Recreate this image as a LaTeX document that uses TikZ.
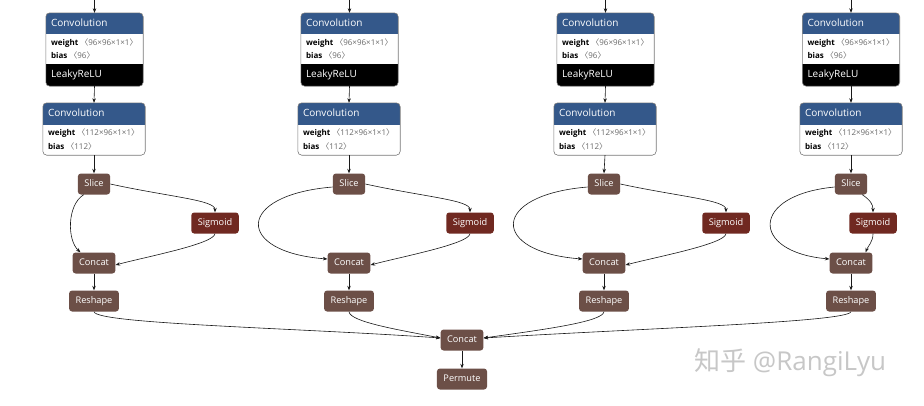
\documentclass[tikz,border=0pt]{standalone}
\usepackage{fontspec}
\setmainfont{Open Sans}
\newfontfamily\cjk{Noto Sans CJK SC}
\usetikzlibrary{arrows.meta}
\definecolor{convblue}{RGB}{52,88,138}
\definecolor{shapebrown}{RGB}{108,79,71}
\definecolor{sigred}{RGB}{112,41,33}
\definecolor{paramgray}{RGB}{105,105,105}
\definecolor{edgecol}{RGB}{25,25,25}
\definecolor{boxgray}{RGB}{120,120,120}
\newcommand\lbr{{\cjk 〈}}
\newcommand\rbr{{\cjk 〉}}
\tikzset{
  blk/.style={rectangle, inner sep=0pt, draw=none},
  boxline/.style={draw=boxgray, line width=0.6pt},
  hdr/.style={anchor=west, inner sep=0pt, text=white, font=\fontsize{10}{12}\selectfont, text height=7.5pt, text depth=2pt},
  prm/.style={anchor=west, inner sep=0pt, text=black, font=\fontsize{8}{9.5}\selectfont, text height=6pt, text depth=1.5pt},
  op/.style={rectangle, rounded corners=3pt, minimum height=21pt, inner xsep=6.5pt, inner ysep=0pt, text=white, fill=shapebrown, font=\fontsize{9.2}{11}\selectfont, text height=7pt, text depth=2pt},
  sig/.style={op, fill=sigred},
  arr/.style={draw=edgecol, line width=0.6pt, -{Stealth[length=4.5pt,width=3.5pt]}},
  wm/.style={inner sep=0pt, text=black!22, font=\fontsize{26}{30}\selectfont}
}
\newcommand\convA[2]{%
  \node[blk, minimum width=97pt, minimum height=73pt] (#1) at (#2,49.5) {};
  \begin{scope}
    \clip[rounded corners=4pt] (#1.north west) rectangle (#1.south east);
    \fill[convblue] (#1.north west) rectangle ([yshift=-21pt]#1.north east);
    \fill[black] ([yshift=22pt]#1.south west) rectangle (#1.south east);
  \end{scope}
  \draw[boxline, rounded corners=4pt] (#1.north west) rectangle (#1.south east);
  \node[hdr] (#1h) at ([xshift=5pt,yshift=-10.5pt]#1.north west) {Convolution};
  \node[prm] (#1w) at ([xshift=5pt,yshift=-30pt]#1.north west) {\textbf{weight} \textcolor{paramgray}{\lbr 96×96×1×1\rbr}};
  \node[prm] (#1b) at ([xshift=5pt,yshift=-43pt]#1.north west) {\textbf{bias} \textcolor{paramgray}{\lbr 96\rbr}};
  \node[hdr] (#1l) at ([xshift=5pt,yshift=11pt]#1.south west) {LeakyReLU};
}
\newcommand\convB[2]{%
  \node[blk, minimum width=102pt, minimum height=52pt] (#1) at (#2,129) {};
  \begin{scope}
    \clip[rounded corners=4pt] (#1.north west) rectangle (#1.south east);
    \fill[convblue] (#1.north west) rectangle ([yshift=-22pt]#1.north east);
  \end{scope}
  \draw[boxline, rounded corners=4pt] (#1.north west) rectangle (#1.south east);
  \node[hdr] (#1h) at ([xshift=5pt,yshift=-11pt]#1.north west) {Convolution};
  \node[prm] (#1w) at ([xshift=5pt,yshift=-30.5pt]#1.north west) {\textbf{weight} \textcolor{paramgray}{\lbr 112×96×1×1\rbr}};
  \node[prm] (#1b) at ([xshift=5pt,yshift=-44pt]#1.north west) {\textbf{bias} \textcolor{paramgray}{\lbr 112\rbr}};
}
\begin{document}
\begin{tikzpicture}[x=1pt,y=-1pt]
\useasboundingbox[fill=white] (0,0) rectangle (924,405);

% ---------- column 1 ----------
\convA{ca1}{94.5}
\convB{cb1}{94}
\node[op] (s1) at (94,184) {Slice};
\node[sig] (g1) at (215,223) {Sigmoid};
\node[op] (k1) at (94,263) {Concat};
\node[op] (r1) at (94,301) {Reshape};
% ---------- column 2 ----------
\convA{ca2}{349.5}
\convB{cb2}{349}
\node[op] (s2) at (349,184) {Slice};
\node[sig] (g2) at (470,223) {Sigmoid};
\node[op] (k2) at (349,263) {Concat};
\node[op] (r2) at (349,301) {Reshape};
% ---------- column 3 ----------
\convA{ca3}{605.5}
\convB{cb3}{605}
\node[op] (s3) at (604,184) {Slice};
\node[sig] (g3) at (726,223) {Sigmoid};
\node[op] (k3) at (604,263) {Concat};
\node[op] (r3) at (604,301) {Reshape};
% ---------- column 4 ----------
\convA{ca4}{851}
\convB{cb4}{851}
\node[op] (s4) at (851,184) {Slice};
\node[sig] (g4) at (873,223) {Sigmoid};
\node[op] (k4) at (851,263) {Concat};
\node[op] (r4) at (851,301) {Reshape};
% ---------- merge ----------
\node[op] (fc) at (462,340) {Concat};
\node[op] (pm) at (462,379) {Permute};

% inputs
\coordinate (in1) at (94.5,0);
\coordinate (in2) at (349.5,0);
\coordinate (in3) at (605.5,0);
\coordinate (in4) at (851,0);

\foreach \i in {1,2,3,4}{
  \draw[arr] (in\i) -- (ca\i.north);
  \draw[arr] (ca\i.south) -- (cb\i.north);
  \draw[arr] (cb\i.south) -- (s\i.north);
  \draw[arr] (k\i.south) -- (r\i.north);
}

% column 1 branches
\draw[arr] (s1.east) .. controls (170,197) and (215,200) .. (g1.north);
\draw[arr] (g1.south) .. controls (214,244) and (145,257) .. ([yshift=-2pt]k1.east);
\draw[arr] ([xshift=6pt]s1.south west) .. controls (67,205) and (67,240) .. ([xshift=8pt]k1.north west);
% column 2 branches
\draw[arr] (s2.east) .. controls (425,197) and (470,200) .. (g2.north);
\draw[arr] (g2.south) .. controls (469,244) and (400,257) .. ([yshift=-2pt]k2.east);
\draw[arr] ([yshift=-3pt]s2.west) .. controls (235,195) and (235,252) .. ([yshift=4pt]k2.west);
% column 3 branches
\draw[arr] (s3.east) .. controls (681,197) and (726,200) .. (g3.north);
\draw[arr] (g3.south) .. controls (725,244) and (656,257) .. ([yshift=-2pt]k3.east);
\draw[arr] ([yshift=-3pt]s3.west) .. controls (490,195) and (490,252) .. ([yshift=4pt]k3.west);
% column 4 branches
\draw[arr] ([xshift=-5pt]s4.south east) .. controls (870,200) and (873,204) .. (g4.north);
\draw[arr] (g4.south) .. controls (873,242) and (868,246) .. ([xshift=-7pt]k4.north east);
\draw[arr] ([yshift=-3pt]s4.west) .. controls (750,195) and (750,252) .. ([yshift=4pt]k4.west);

% merge
\draw[arr] (r1.south) .. controls (96,324) and (300,328) .. ([yshift=2pt]fc.west);
\draw[arr] (r2.south) .. controls (350,322) and (400,330) .. ([yshift=2pt]fc.west);
\draw[arr] (r3.south) .. controls (603,322) and (540,330) .. ([yshift=2pt]fc.east);
\draw[arr] (r4.south) .. controls (848,322) and (650,328) .. ([yshift=2pt]fc.east);
\draw[arr] (fc.south) -- (pm.north);

% watermark
\node[wm, anchor=west] (wmark) at (694,363) {{\cjk 知乎} @RangiLyu};
\end{tikzpicture}
\end{document}
